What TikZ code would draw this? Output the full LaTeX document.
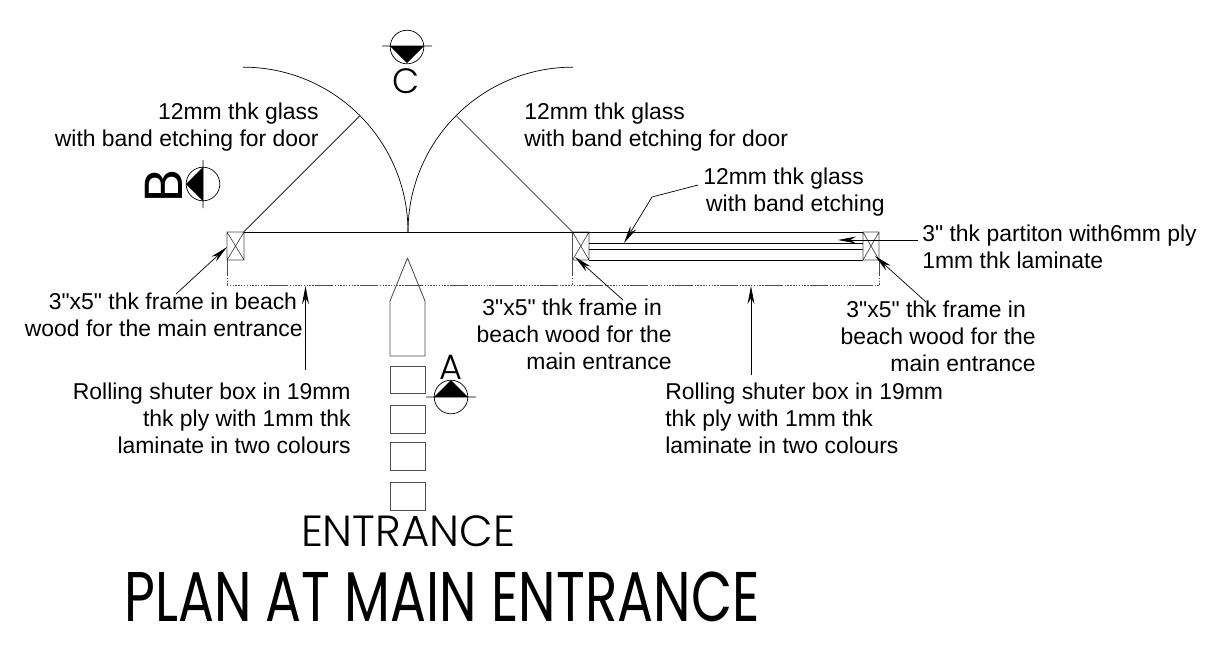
\documentclass[tikz,border=0pt]{standalone}
\usepackage{fontspec}
\setmainfont{Liberation Sans}[Ligatures=TeXOff]
\newfontfamily\cadfont{Poppins}
\newfontfamily\cadthin{Poppins Light}
\usetikzlibrary{arrows.meta}
\tikzset{
 leader/.style={-{Stealth[length=.45cm,width=.17cm]},line width=.5pt},
 note/.style={inner sep=0pt,font=\fontsize{16.3}{19.3}\selectfont},
 bubble/.style={draw,line width=.5pt},
 stepbox/.style={draw,line width=.6pt,gray!60!black},
 cadletter/.style={inner sep=0pt,font=\fontsize{25}{25}\selectfont\cadthin},
 dotline/.style={gray!60!black,dash pattern=on 1pt off 1pt},
}
\begin{document}
\begin{tikzpicture}[x=.025cm,y=-.025cm,line join=round,line cap=butt,line width=.5pt]
 \useasboundingbox (0,0) rectangle (1216,660);
 % frames and wall
 \draw[gray!60!black] (227,232) rectangle (244,260) (227,232)--(244,260) (244,232)--(227,260);
 \draw[gray!60!black] (572.5,232) rectangle (589,260) (572.5,232)--(589,260) (589,232)--(572.5,260);
 \draw[gray!60!black] (863,232) rectangle (879,260) (863,232)--(879,260) (879,232)--(863,260);
 \draw (244,232)--(863,232);
 \draw (589,243.5)--(863,243.5);
 \draw (589,249)--(863,249);
 \draw (589,260)--(863,260);
 % doors
 \coordinate (hingeL) at (243.5,232);
 \coordinate (hingeR) at (572.5,232);
 \coordinate (meet) at (408,232);
 \draw (meet) arc[start angle=0,end angle=90,radius=4.12cm];
 \draw (meet) arc[start angle=180,end angle=90,radius=4.12cm];
 \draw (hingeL)--(359.5,116);
 \draw (hingeR)--(456.5,116);
 % shutter box
 \foreach \xa in {227,572.5,879}{
 \draw[gray!60!black] (\xa,260)--(\xa,275);
 \draw[dotline] (\xa,275)--(\xa,285);
 }
 \draw[dotline] (227,285)--(270,285);
 \draw[gray!60!black,dash pattern=on 13pt off 1pt on 1pt off 1pt on 1pt off 1pt on 1pt off 1pt on 1pt off 1pt on 1pt off 1pt on 1pt off 1pt on 1pt off 1pt on 1pt off 1pt on 1pt off 1pt] (270,285)--(879,285);
 % entrance steps
 \draw[stepbox] (390,356)--(390,301)--(407.5,258)--(425,301)--(425,356)--cycle;
 \foreach \ya/\yb in {366/393,405/433,442/470,482/510}
 \draw[stepbox] (390,\ya) rectangle (425,\yb);
 % section marks
 \draw[bubble] (407,47) circle[radius=.42cm] (382,46)--(432,46);
 \fill (390,46)--(424,46)--(407,63)--cycle;
 \node[cadletter] (markC) at (406,81) {C};
 \draw[bubble] (203,184) circle[radius=.42cm] (203,160)--(203,208);
 \fill (203,167)--(203,201)--(186,184)--cycle;
 \node[cadletter,rotate=90,font=\fontsize{38}{38}\selectfont\cadfont] (markB) at (164,186) {B};
 \draw[bubble] (451,397) circle[radius=.42cm] (426,397)--(476,397);
 \fill (434,397)--(468,397)--(451,380)--cycle;
 \node[cadletter] (markA) at (451,367.5) {A};
 % notes
 \node[note,align=right,anchor=east] (doorL) at (319,127) {12mm thk glass\\with band etching for door};
 \node[note,align=left,anchor=west] (doorR) at (524,127) {12mm thk glass\\with band etching for door};
 \node[note,align=left,anchor=west] (glass) at (703,192) {12mm thk glass\\\hspace*{2pt}with band etching};
 \node[note,align=left,anchor=west] (partition) at (922,247) {3" thk partiton with6mm ply\\1mm thk laminate};
 \node[note,align=right,anchor=east] (frameL) at (303,315) {3"x5" thk frame in beach\hspace*{4pt}\\wood for the main entrance};
 \node[note,align=right,anchor=east] (frameM) at (672,334) {3"x5" thk frame in\hspace*{7pt}\\beach wood for the\\main entrance};
 \node[note,align=right,anchor=east] (frameR) at (1036,336) {3"x5" thk frame in\hspace*{7pt}\\beach wood for the\\main entrance};
 \node[note,align=right,anchor=east] (boxL) at (351,418) {Rolling shuter box in 19mm\\thk ply with 1mm thk\\laminate in two colours};
 \node[note,align=left,anchor=west] (boxR) at (665,418) {Rolling shuter box in 19mm\\thk ply with 1mm thk\\laminate in two colours};
 \node[inner sep=0pt,font=\fontsize{31}{31}\selectfont\cadthin,transform shape] (entrance) at (408,531) {ENTRANCE};
 \node[inner sep=0pt,font=\fontsize{50}{50}\selectfont\cadfont,xscale=.758,transform shape] (title) at (442,597) {PLAN AT MAIN ENTRANCE};
 % leaders
 \coordinate (tipA) at (227,247);
 \coordinate (tailA) at (176,294);
 \coordinate (tipB) at (575,257);
 \coordinate (tailB) at (623,300);
 \coordinate (tipC) at (875,256);
 \coordinate (tailC) at (926,302);
 \draw[leader] (tailA)--(tipA);
 \draw[leader] (tailB)--(tipB);
 \draw[leader] (tailC)--(tipC);
 \coordinate (tipD) at (305.5,286);
 \coordinate (tailD) at (305.5,370);
 \draw[leader] (tailD)--(tipD);
 \coordinate (tipE) at (751,286);
 \coordinate (tailE) at (751,375);
 \draw[leader] (tailE)--(tipE);
 \coordinate (tipF) at (624,243);
 \draw[leader] (698,185)--(652,197)--(tipF);
 \coordinate (tipG) at (838,240);
 \draw[leader] (918,240)--(tipG);
\end{tikzpicture}
\end{document}
